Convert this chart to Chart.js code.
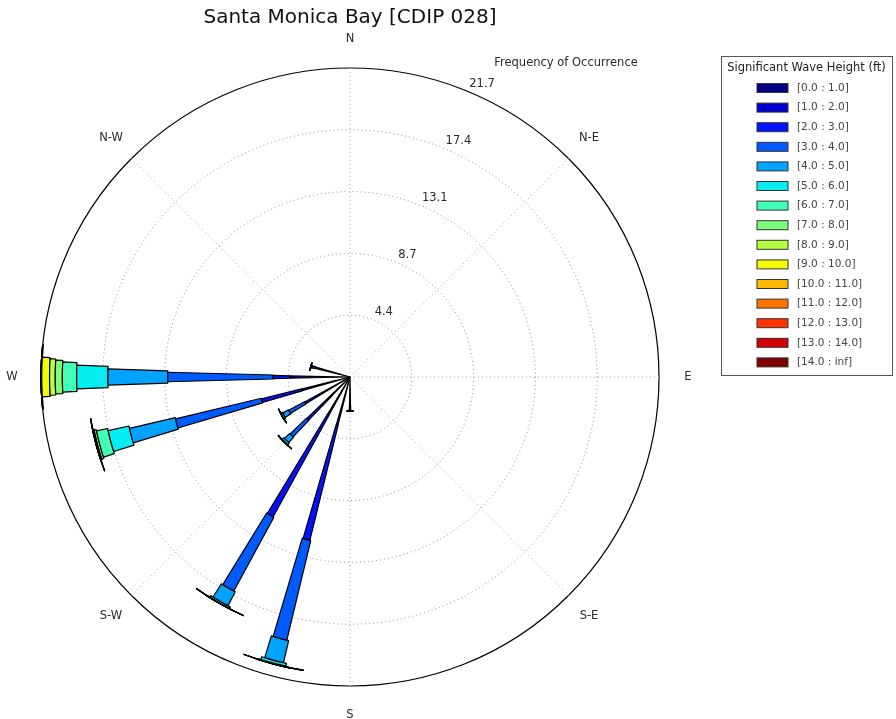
<!DOCTYPE html>
<html>
<head>
<meta charset="utf-8">
<title>Santa Monica Bay [CDIP 028]</title>
<script src="https://cdn.jsdelivr.net/npm/chart.js"></script>
<style>
  html, body { margin: 0; padding: 0; background: #fff; }
  #wrap { position: relative; width: 896px; height: 719px; }
</style>
</head>
<body>
<div id="wrap"><canvas id="rose"></canvas></div>
<script>
// direction sectors, degrees clockwise from north (15 degree bins)
const sectors = [0, 15, 30, 45, 60, 75, 90, 105, 120, 135, 150, 165,
  180, 195, 210, 225, 240, 255, 270, 285, 300, 315, 330, 345];
const compass = ["N", "N-E", "E", "S-E", "S", "S-W", "W", "N-W"];
const ringLabels = ["4.4", "8.7", "13.1", "17.4", "21.7"];
const ringMax = 21.7;
const heightBins = ["[0.0 : 1.0]", "[1.0 : 2.0]", "[2.0 : 3.0]", "[3.0 : 4.0]", "[4.0 : 5.0]",
  "[5.0 : 6.0]", "[6.0 : 7.0]", "[7.0 : 8.0]", "[8.0 : 9.0]", "[9.0 : 10.0]",
  "[10.0 : 11.0]", "[11.0 : 12.0]", "[12.0 : 13.0]", "[13.0 : 14.0]", "[14.0 : inf]"];

// frequency of occurrence (%) for each sector, one list per wave height bin
//            0  15 30 45 60 75 90 105 120 135 150 165  180  195  210  225  240  255  270  285  300 315 330 345
const hs00 = [0, 0, 0, 0, 0, 0, 0, 0, 0, 0, 0, 0, 0.9, 0.5, 0.4, 0.3, 0.3, 1.0, 1.8, 0.8, 0, 0, 0, 0];
const hs01 = [0, 0, 0, 0, 0, 0, 0, 0, 0, 0, 0, 0, 1.1, 3.0, 2.6, 1.5, 1.3, 2.5, 2.4, 1.2, 0, 0, 0, 0];
const hs02 = [0, 0, 0, 0, 0, 0, 0, 0, 0, 0, 0, 0, 0.3, 8.3, 8.2, 2.4, 2.0, 2.9, 1.2, 0.5, 0, 0, 0, 0];
const hs03 = [0, 0, 0, 0, 0, 0, 0, 0, 0, 0, 0, 0, 0.1, 7.2, 5.9, 1.6, 1.3, 6.2, 7.4, 0.25, 0, 0, 0, 0];
const hs04 = [0, 0, 0, 0, 0, 0, 0, 0, 0, 0, 0, 0, 0, 1.6, 1.1, 0.5, 0.45, 3.3, 4.2, 0.07, 0, 0, 0, 0];
const hs05 = [0, 0, 0, 0, 0, 0, 0, 0, 0, 0, 0, 0, 0, 0.2, 0.12, 0.15, 0.12, 1.5, 2.2, 0.03, 0, 0, 0, 0];
const hs06 = [0, 0, 0, 0, 0, 0, 0, 0, 0, 0, 0, 0, 0, 0.06, 0.03, 0.05, 0.03, 0.8, 1.0, 0, 0, 0, 0, 0];
const hs07 = [0, 0, 0, 0, 0, 0, 0, 0, 0, 0, 0, 0, 0, 0, 0, 0, 0, 0.15, 0.5, 0, 0, 0, 0, 0];
const hs08 = [0, 0, 0, 0, 0, 0, 0, 0, 0, 0, 0, 0, 0, 0, 0, 0, 0, 0.07, 0.4, 0, 0, 0, 0, 0];
const hs09 = [0, 0, 0, 0, 0, 0, 0, 0, 0, 0, 0, 0, 0, 0, 0, 0, 0, 0.03, 0.55, 0, 0, 0, 0, 0];
const hs10 = [0, 0, 0, 0, 0, 0, 0, 0, 0, 0, 0, 0, 0, 0, 0, 0, 0, 0, 0.05, 0, 0, 0, 0, 0];
const hs11 = [0, 0, 0, 0, 0, 0, 0, 0, 0, 0, 0, 0, 0, 0, 0, 0, 0, 0, 0, 0, 0, 0, 0, 0];
const hs12 = [0, 0, 0, 0, 0, 0, 0, 0, 0, 0, 0, 0, 0, 0, 0, 0, 0, 0, 0, 0, 0, 0, 0, 0];
const hs13 = [0, 0, 0, 0, 0, 0, 0, 0, 0, 0, 0, 0, 0, 0, 0, 0, 0, 0, 0, 0, 0, 0, 0, 0];
const hs14 = [0, 0, 0, 0, 0, 0, 0, 0, 0, 0, 0, 0, 0, 0, 0, 0, 0, 0, 0, 0, 0, 0, 0, 0];
const binSeries = [hs00, hs01, hs02, hs03, hs04, hs05, hs06, hs07, hs08, hs09, hs10, hs11, hs12, hs13, hs14];

// jet colours, one per bin
const binColors = ["#000080", "#0000d2", "#0012ff", "#005bff", "#00a4ff", "#06edf1", "#41ffb6",
  "#7bff7b", "#b6ff41", "#f1fc06", "#ffb900", "#ff7500", "#ff3200", "#d20000", "#800000"];
// angular width (deg) of each bin's segment
const binOpening = [1.6, 2, 2.4, 3, 3.8, 5, 6, 6.6, 7, 7.4, 12, 12, 12, 12, 12];

Chart.defaults.font.family = "'DejaVu Sans', sans-serif";

// polar area whose arcs start at the top of the bin below (stacked rose)
class WaveRose extends Chart.PolarAreaController {
  updateElement(arc, index, props, mode) {
    const base = this.getDataset().base;
    if (base && props) {
      props.innerRadius = this._cachedMeta.rScale.getDistanceFromCenterForValue(base[index]);
    }
    super.updateElement(arc, index, props, mode);
  }
}
WaveRose.id = "waveRose";
Chart.register(WaveRose);

const step = 360 / sectors.length;
const datasets = binSeries.map((vals, k) => {
  const w = binOpening[k];
  const data = [0];
  const base = [0];
  sectors.forEach((_, j) => {
    let below = 0;
    for (let m = 0; m < k; m++) below += binSeries[m][j];
    data.push(below + vals[j], 0);
    base.push(below, 0);
  });
  return {
    label: heightBins[k],
    data: data,
    base: base,
    backgroundColor: binColors[k],
    borderColor: "#000",
    borderWidth: (c) => (c.dataIndex % 2 ? 1.2 : 0),
    // first arc only turns the start back by half a segment, then segment / gap
    angle: (c) => (c.dataIndex === 0 ? 360 - w / 2 : c.dataIndex % 2 ? w : step - w),
  };
});

const roseText = {
  id: "roseText",
  afterDraw(chart) {
    const ctx = chart.ctx;
    const r = chart.scales.r;
    ctx.save();
    ctx.fillStyle = "#2a2a2a";
    ctx.font = "11.5px 'DejaVu Sans'";
    ctx.textAlign = "center";
    ctx.textBaseline = "middle";
    compass.forEach((txt, i) => {
      const p = r.getPointPosition(i, r.drawingArea + 29);
      ctx.fillText(txt, p.x, p.y);
    });
    ctx.fillText("Frequency of Occurrence", r.xCenter + 216, r.yCenter - 314);

    ctx.textAlign = "left";
    ctx.textBaseline = "alphabetic";
    ringLabels.forEach((txt, i) => {
      const d = r.getDistanceFromCenterForValue((ringMax * (i + 1)) / ringLabels.length);
      const p = r.getPointPosition(0.5, d);
      ctx.fillText(txt, p.x + 1, p.y - 5);
    });

    // legend
    const lx = 721, ly = 56, lw = 171, lh = 319;
    ctx.strokeStyle = "#555";
    ctx.lineWidth = 1;
    ctx.strokeRect(lx + 0.5, ly + 0.5, lw, lh);
    ctx.textAlign = "center";
    ctx.textBaseline = "middle";
    ctx.fillStyle = "#222";
    ctx.fillText("Significant Wave Height (ft)", lx + lw / 2, ly + 12);
    ctx.font = "10.5px 'DejaVu Sans'";
    ctx.textAlign = "left";
    heightBins.forEach((lab, i) => {
      const y = 88 + i * 19.6;
      ctx.fillStyle = binColors[i];
      ctx.fillRect(757, y - 4.5, 31, 9);
      ctx.strokeStyle = "#333";
      ctx.strokeRect(757, y - 4.5, 31, 9);
      ctx.fillStyle = "#444";
      ctx.fillText(lab, 797, y);
    });
    ctx.restore();
  },
};

new Chart(document.getElementById("rose"), {
  type: "waveRose",
  data: { labels: compass, datasets: datasets },
  options: {
    responsive: true,
    maintainAspectRatio: false,
    animation: false,
    events: [],
    layout: { padding: { left: 41, right: 237, top: 0, bottom: 33 } },
    scales: {
      r: {
        min: 0,
        max: ringMax,
        startAngle: 0,
        afterBuildTicks: (s) => {
          s.ticks = [0, 1, 2, 3, 4, 5].map((i) => ({ value: (ringMax * i) / 5 }));
        },
        ticks: { display: false },
        pointLabels: { display: false },
        grid: {
          circular: true,
          color: (c) => (c.index === 5 ? "#000" : "#888"),
          lineWidth: (c) => (c.index === 5 ? 1.2 : 1),
        },
        border: { dash: (c) => (c.index === 5 ? [] : [1, 3]) },
        angleLines: { display: true, color: "#aaa", lineWidth: 1, borderDash: [1, 3] },
      },
    },
    plugins: {
      legend: { display: false },
      tooltip: { enabled: false },
      title: {
        display: true,
        text: "Santa Monica Bay [CDIP 028]",
        fullSize: false,
        color: "#111",
        font: { size: 20, weight: "normal" },
        padding: { top: 5.5, bottom: 38.5 },
      },
    },
  },
  plugins: [roseText],
});
</script>
</body>
</html>
